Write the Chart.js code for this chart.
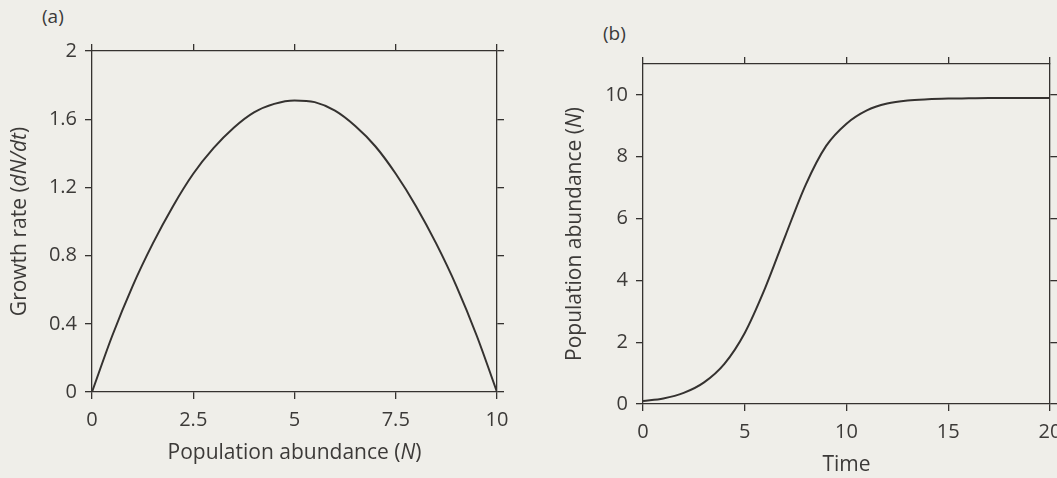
<!DOCTYPE html>
<html>
<head>
<meta charset="utf-8">
<script src="https://cdn.jsdelivr.net/npm/chart.js@4.4.0/dist/chart.umd.min.js"></script>
<style>
    html, body { margin: 0; padding: 0; }
    body { width: 1057px; height: 478px; overflow: hidden; position: relative; background: #efeee9; font-family: 'Open Sans', sans-serif; }
    .panel { position: absolute; top: 0; height: 478px; }
    .tag { position: absolute; font-size: 19px; color: #3a3a3a; }
</style>
</head>
<body>
<div class="tag" style="left:42px; top:3px;">(a)</div>
<div class="tag" style="left:603px; top:20px;">(b)</div>
<div class="panel" style="left:0; width:530px;"><canvas id="chartA"></canvas></div>
<div class="panel" style="left:530px; width:600px;"><canvas id="chartB"></canvas></div>
<script>
// (a) growth rate against abundance
var abundance = [0, 0.5, 1, 1.5, 2, 2.5, 3, 3.5, 4, 4.5, 5, 5.5, 6, 6.5, 7, 7.5, 8, 8.5, 9, 9.5, 10];
var growthRate = [0, 0.33, 0.62, 0.87, 1.09, 1.28, 1.43, 1.55, 1.64, 1.69, 1.71, 1.70, 1.65, 1.56, 1.44, 1.28, 1.09, 0.87, 0.62, 0.33, 0];
var abundanceTicks = [0, 2.5, 5, 7.5, 10];
var rateTicks = [0, 0.4, 0.8, 1.2, 1.6, 2];

// (b) abundance against time
var time = [0, 1, 2, 3, 4, 5, 6, 7, 8, 9, 10, 11, 12, 13, 14, 15, 16, 17, 18, 19, 20];
var popAbundance = [0.1, 0.18, 0.36, 0.7, 1.3, 2.3, 3.75, 5.45, 7.1, 8.35, 9.07, 9.5, 9.72, 9.82, 9.86, 9.88, 9.89, 9.9, 9.9, 9.9, 9.9];
var timeTicks = [0, 5, 10, 15, 20];
var popTicks = [0, 2, 4, 6, 8, 10];

var ink = '#353230';
var textInk = '#3c3a38';
var fam = "'Open Sans', sans-serif";

function drawRich(ctx, parts, x, y, rot, size) {
    ctx.save();
    ctx.translate(x, y);
    ctx.rotate(rot);
    var total = 0;
    parts.forEach(function (p) {
        ctx.font = (p[1] ? 'italic ' : '') + size + 'px ' + fam;
        total += ctx.measureText(p[0]).width;
    });
    var cx = -total / 2;
    ctx.textAlign = 'left';
    ctx.textBaseline = 'middle';
    parts.forEach(function (p) {
        ctx.font = (p[1] ? 'italic ' : '') + size + 'px ' + fam;
        ctx.fillText(p[0], cx, 0);
        cx += ctx.measureText(p[0]).width;
    });
    ctx.restore();
}

const richTitles = {
    id: 'richTitles',
    afterDraw(chart, args, opts) {
        const ctx = chart.ctx;
        const area = chart.chartArea;
        ctx.fillStyle = textInk;
        drawRich(ctx, opts.x, (area.left + area.right) / 2, opts.xPos, 0, 21);
        drawRich(ctx, opts.y, opts.yPos, (area.top + area.bottom) / 2, -Math.PI / 2, 21);
    }
};

function axis(pos, min, max, tickList, showLabels, size, pad) {
    return {
        type: 'linear',
        position: pos,
        min: min,
        max: max,
        afterBuildTicks: function (scale) {
            scale.ticks = tickList.map(function (v) { return {value: v}; });
        },
        afterFit: function (scale) {
            if (scale.isHorizontal()) scale.height = size; else scale.width = size;
        },
        grid: {drawOnChartArea: false, drawTicks: true, tickLength: 7, color: ink, lineWidth: 1.3},
        border: {display: true, color: ink, width: 1.3},
        ticks: {
            display: showLabels,
            padding: pad,
            color: textInk,
            font: {family: fam, size: 20},
            maxRotation: 0,
            autoSkip: false,
            callback: function (v) { return String(v); }
        }
    };
}

function points(xs, ys) {
    return xs.map(function (x, i) { return {x: x, y: ys[i]}; });
}

function makeChart(id, w, xs, ys, xT, yT, cfg) {
    const cv = document.getElementById(id);
    cv.width = w;
    cv.height = 478;
    cv.style.width = w + 'px';
    cv.style.height = '478px';
    return new Chart(cv, {
        type: 'scatter',
        data: {
            datasets: [{
                data: points(xs, ys),
                showLine: true,
                borderColor: ink,
                borderWidth: 2,
                pointRadius: 0,
                cubicInterpolationMode: 'monotone',
                xAxisID: 'x',
                yAxisID: 'y'
            }]
        },
        options: {
            responsive: false,
            animation: false,
            layout: {padding: 0},
            plugins: {
                legend: {display: false},
                tooltip: {enabled: false},
                richTitles: cfg.titles
            },
            scales: {
                x: axis('bottom', xT[0], xT[xT.length - 1], xT, true, cfg.bottom, 9),
                x2: axis('top', xT[0], xT[xT.length - 1], xT, false, cfg.top, 0),
                y: axis('left', yT[0], cfg.yMax, yT, true, cfg.left, 8),
                y2: axis('right', yT[0], cfg.yMax, yT, false, cfg.right, 0)
            }
        },
        plugins: [richTitles]
    });
}

makeChart('chartA', 530, abundance, growthRate, abundanceTicks, rateTicks, {
    left: 92, right: 33, top: 51, bottom: 86, yMax: 2,
    titles: {
        x: [['Population abundance (', false], ['N', true], [')', false]], xPos: 453,
        y: [['Growth rate (', false], ['dN/dt', true], [')', false]], yPos: 20
    }
});

makeChart('chartB', 600, time, popAbundance, timeTicks, popTicks, {
    left: 113, right: 80, top: 64, bottom: 74, yMax: 11,
    titles: {
        x: [['Time', false]], xPos: 465,
        y: [['Population abundance (', false], ['N', true], [')', false]], yPos: 45
    }
});
</script>
</body>
</html>
